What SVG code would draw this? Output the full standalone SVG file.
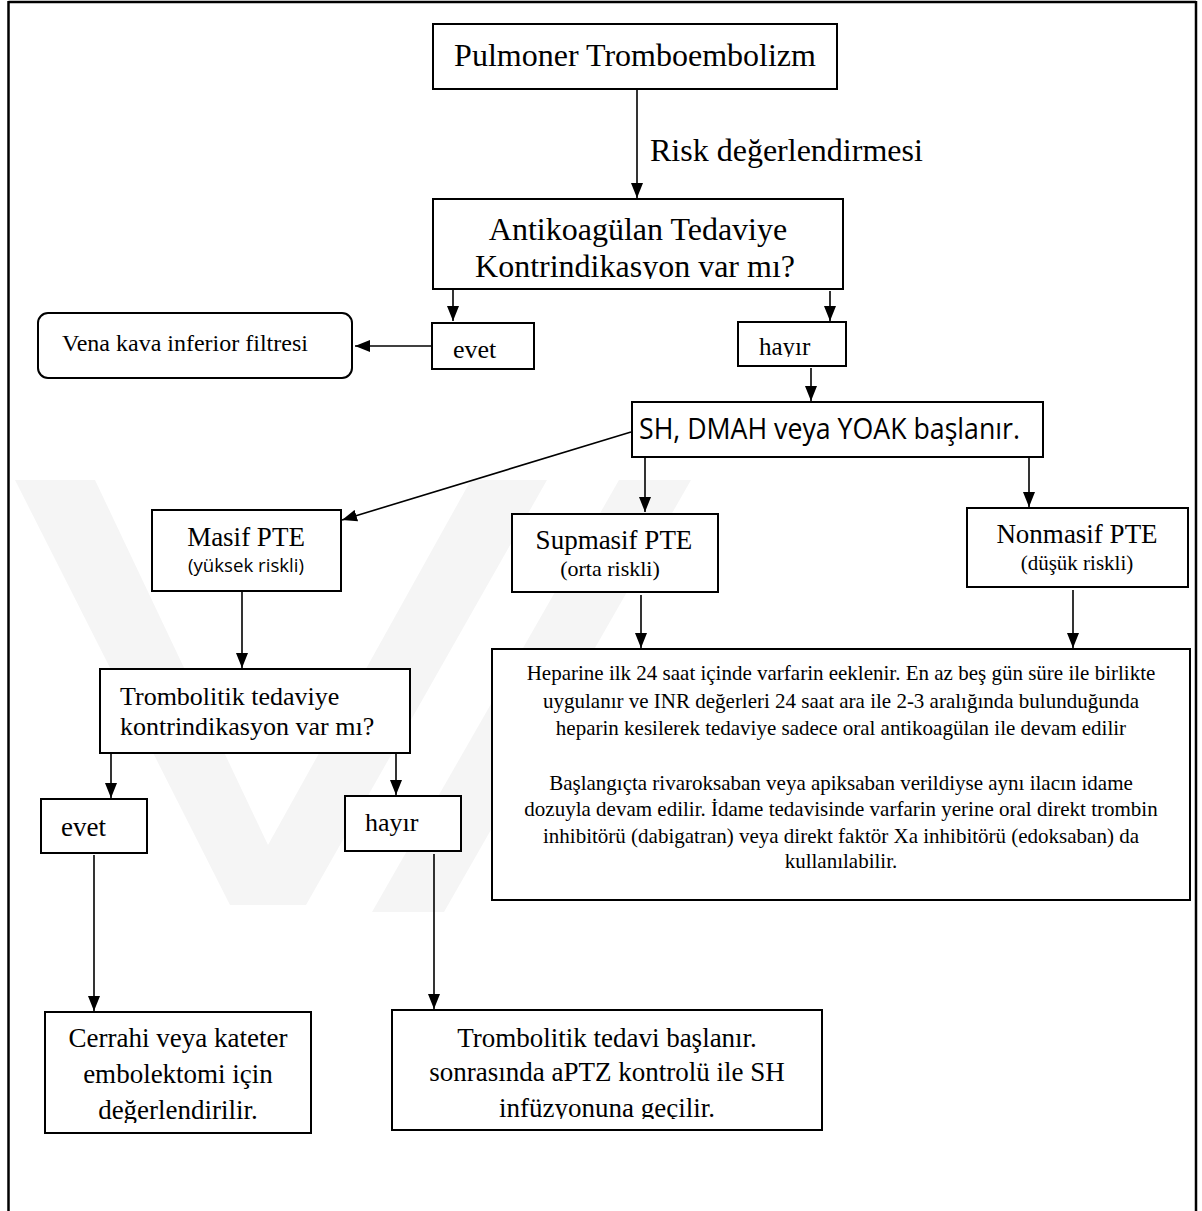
<svg xmlns="http://www.w3.org/2000/svg" width="1202" height="1211" viewBox="0 0 1202 1211">
<style>
  .box{fill:#fff;stroke:#000;stroke-width:2}
  .t{font-family:"Liberation Serif","Times New Roman",serif;fill:#000}
  .s{font-family:"Open Sans","Noto Sans",sans-serif;fill:#000}
  .c{text-anchor:middle}
  .ln{stroke:#000;stroke-width:1.6;fill:none;marker-end:url(#ah)}
  .wm{fill:#f5f5f5}
</style>
<defs>
  <marker id="ah" markerUnits="userSpaceOnUse" markerWidth="15" markerHeight="12" refX="15" refY="6" orient="auto">
    <path d="M0,0 L15,6 L0,12 z" fill="#000"/>
  </marker>
  <clipPath id="c1"><rect x="433" y="199" width="410" height="80"/></clipPath>
  <clipPath id="c2"><rect x="738" y="322" width="108" height="35"/></clipPath>
  <clipPath id="c3"><rect x="45" y="1012" width="266" height="111"/></clipPath>
  <clipPath id="c4"><rect x="392" y="1010" width="430" height="109"/></clipPath>
</defs>
<rect width="1202" height="1211" fill="#fff"/>
<g id="watermark">
  <polygon class="wm" points="15,480 95,480 268,845 471,480 547,480 306,905 230,905"/>
  <polygon class="wm" points="619,480 691,480 444,912 372,912"/>
</g>
<g id="frame" stroke="#000" fill="none">
  <line x1="8.5" y1="2" x2="1196" y2="2" stroke-width="2.5"/>
  <line x1="8.5" y1="1" x2="8.5" y2="1211" stroke-width="2.5"/>
  <line x1="1196" y1="1" x2="1196" y2="1211" stroke-width="2.5"/>
</g>
<g id="connectors">
  <line class="ln" x1="637" y1="90" x2="637" y2="198"/>
  <line class="ln" x1="453" y1="290" x2="453" y2="321"/>
  <line class="ln" x1="830" y1="291" x2="830" y2="321"/>
  <line class="ln" x1="431" y1="346" x2="355" y2="346"/>
  <line class="ln" x1="811" y1="368" x2="811" y2="401"/>
  <line class="ln" x1="631" y1="432" x2="342" y2="520"/>
  <line class="ln" x1="645" y1="458" x2="645" y2="512"/>
  <line class="ln" x1="1029" y1="458" x2="1029" y2="507"/>
  <line class="ln" x1="641" y1="595" x2="641" y2="648"/>
  <line class="ln" x1="1073" y1="590" x2="1073" y2="648"/>
  <line class="ln" x1="242" y1="592" x2="242" y2="668"/>
  <line class="ln" x1="111" y1="754" x2="111" y2="798"/>
  <line class="ln" x1="396" y1="754" x2="396" y2="795"/>
  <line class="ln" x1="94" y1="855" x2="94" y2="1011"/>
  <line class="ln" x1="434" y1="854" x2="434" y2="1009"/>
  <text class="t" x="650" y="161" font-size="32">Risk değerlendirmesi</text>
</g>
<g id="n-pte">
  <rect class="box" x="433" y="24" width="404" height="65"/>
  <text class="t c" x="635" y="66" font-size="32">Pulmoner Tromboembolizm</text>
</g>
<g id="n-antikoag">
  <rect class="box" x="433" y="199" width="410" height="90"/>
  <g clip-path="url(#c1)">
    <text class="t c" x="638" y="240" font-size="32">Antikoagülan Tedaviye</text>
    <text class="t c" x="635" y="277" font-size="32">Kontrindikasyon var mı?</text>
  </g>
</g>
<g id="n-vena">
  <rect class="box" x="38" y="313" width="314" height="65" rx="10"/>
  <text class="t" x="62" y="351" font-size="24">Vena kava inferior filtresi</text>
</g>
<g id="n-evet1">
  <rect class="box" x="432" y="323" width="102" height="46"/>
  <text class="t" x="453" y="358" font-size="26">evet</text>
</g>
<g id="n-hayir1">
  <rect class="box" x="738" y="322" width="108" height="44"/>
  <text class="t" x="759" y="355" font-size="25" clip-path="url(#c2)">hayır</text>
</g>
<g id="n-sh">
  <rect class="box" x="632" y="402" width="411" height="55"/>
  <text class="s" x="639" y="439" font-size="29" textLength="381" lengthAdjust="spacingAndGlyphs">SH, DMAH veya YOAK başlanır.</text>
</g>
<g id="n-masif">
  <rect class="box" x="152" y="510" width="189" height="81"/>
  <text class="t c" x="246" y="546" font-size="27">Masif PTE</text>
  <text class="s" x="188" y="572" font-size="19" textLength="116" lengthAdjust="spacingAndGlyphs">(yüksek riskli)</text>
</g>
<g id="n-supmasif">
  <rect class="box" x="512" y="514" width="206" height="78"/>
  <text class="t c" x="614" y="549" font-size="27">Supmasif PTE</text>
  <text class="t c" x="610" y="576" font-size="22">(orta riskli)</text>
</g>
<g id="n-nonmasif">
  <rect class="box" x="967" y="508" width="221" height="79"/>
  <text class="t c" x="1077" y="543" font-size="27">Nonmasif PTE</text>
  <text class="t c" x="1077" y="570" font-size="21">(düşük riskli)</text>
</g>
<g id="n-info">
  <rect class="box" x="492" y="649" width="698" height="251"/>
  <g class="t c" font-size="21">
    <text x="841" y="680">Heparine ilk 24 saat içinde varfarin eeklenir. En az beş gün süre ile birlikte</text>
    <text x="841" y="708">uygulanır ve INR değerleri 24 saat ara ile 2-3 aralığında bulunduğunda</text>
    <text x="841" y="735">heparin kesilerek tedaviye sadece oral antikoagülan ile devam edilir</text>
    <text x="841" y="790">Başlangıçta rivaroksaban veya apiksaban verildiyse aynı ilacın idame</text>
    <text x="841" y="816">dozuyla devam edilir. İdame tedavisinde varfarin yerine oral direkt trombin</text>
    <text x="841" y="843">inhibitörü (dabigatran) veya direkt faktör Xa inhibitörü (edoksaban) da</text>
    <text x="841" y="868">kullanılabilir.</text>
  </g>
</g>
<g id="n-tromb">
  <rect class="box" x="100" y="669" width="310" height="84"/>
  <text class="t" x="120" y="705" font-size="26">Trombolitik tedaviye</text>
  <text class="t" x="120" y="735" font-size="26">kontrindikasyon var mı?</text>
</g>
<g id="n-evet2">
  <rect class="box" x="41" y="799" width="106" height="54"/>
  <text class="t" x="61" y="836" font-size="27">evet</text>
</g>
<g id="n-hayir2">
  <rect class="box" x="345" y="796" width="116" height="55"/>
  <text class="t" x="365" y="831" font-size="26">hayır</text>
</g>
<g id="n-cerrahi">
  <rect class="box" x="45" y="1012" width="266" height="121"/>
  <g class="t c" font-size="27" clip-path="url(#c3)">
    <text x="178" y="1047">Cerrahi veya kateter</text>
    <text x="178" y="1083">embolektomi için</text>
    <text x="178" y="1119">değerlendirilir.</text>
  </g>
</g>
<g id="n-trombtedavi">
  <rect class="box" x="392" y="1010" width="430" height="120"/>
  <g class="t c" font-size="27" clip-path="url(#c4)">
    <text x="607" y="1047">Trombolitik tedavi başlanır.</text>
    <text x="607" y="1081">sonrasında aPTZ kontrolü ile SH</text>
    <text x="607" y="1117">infüzyonuna geçilir.</text>
  </g>
</g>
</svg>
